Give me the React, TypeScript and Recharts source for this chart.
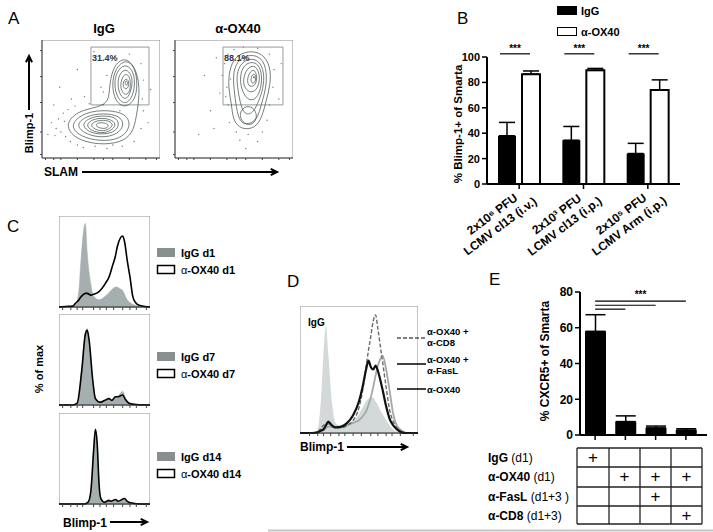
import React from 'react'
import {
  BarChart, Bar, XAxis, YAxis, ErrorBar, LabelList, Legend, ReferenceLine,
  ComposedChart, Area, Line, ScatterChart, Scatter, ReferenceArea,
} from 'recharts'

const FONT = '"Liberation Sans", Arial, Helvetica, sans-serif'

// ---------- panel A: SLAM x Blimp-1 contours (plot units 0-100) ----------
const toPts = (pairs: number[][]) => pairs.map(([x, y]) => ({ x, y }))

const iggContours = [
  [[19, 28], [28, 16], [48, 11], [67, 13], [77, 21], [80, 35], [83, 55], [81, 73], [72, 86], [61, 80], [57, 62], [57, 48], [48, 43], [30, 40]],
  [[23, 28], [32, 18], [50, 14], [66, 16], [75, 25], [73, 37], [56, 41], [36, 39]],
  [[28, 28], [37, 20], [51, 17], [64, 20], [70, 28], [66, 36], [52, 38], [38, 36]],
  [[33, 28], [41, 21], [52, 20], [62, 22], [66, 29], [62, 35], [50, 36], [40, 34]],
  [[37, 27], [44, 22], [53, 21], [60, 24], [63, 29], [58, 33], [49, 34], [41, 32]],
  [[41, 27], [47, 23], [54, 23], [59, 26], [60, 29], [56, 32], [48, 32], [43, 30]],
  [[45, 27], [50, 25], [55, 25], [57, 28], [53, 30], [47, 30]],
  [[59, 62], [62, 48], [70, 42], [79, 49], [81, 62], [79, 77], [71, 84], [62, 76]],
  [[61, 62], [64, 50], [71, 45], [77, 52], [79, 64], [77, 75], [70, 80], [63, 73]],
  [[64, 62], [66, 53], [71, 49], [75, 55], [77, 65], [75, 72], [70, 76], [65, 70]],
  [[66, 62], [68, 55], [72, 53], [75, 58], [75, 66], [73, 71], [69, 71]],
  [[68, 63], [70, 58], [73, 59], [74, 65], [71, 68]],
  [[70, 63], [72, 61], [73, 64], [71, 66]],
].map(toPts)

const ox40Contours = [
  [[46, 75], [51, 86], [62, 91], [74, 89], [81, 78], [81, 62], [77, 48], [74, 35], [68, 25], [56, 24], [49, 32], [48, 46], [45, 60]],
  [[49, 73], [54, 84], [64, 88], [74, 85], [78, 73], [77, 58], [73, 45], [70, 33], [62, 28], [55, 30], [52, 42], [50, 58]],
  [[52, 71], [56, 81], [65, 85], [73, 81], [76, 69], [74, 56], [70, 46], [66, 38], [59, 36], [55, 47], [53, 60]],
  [[55, 69], [58, 79], [66, 82], [72, 78], [74, 67], [72, 56], [68, 49], [61, 49], [56, 59]],
  [[58, 68], [61, 76], [67, 79], [71, 74], [72, 65], [69, 57], [63, 55], [58, 61]],
  [[61, 67], [64, 74], [68, 75], [70, 67], [67, 60], [62, 61]],
  [[64, 67], [66, 72], [69, 70], [68, 64], [65, 63]],
  [[66, 68], [67, 70], [68, 67]],
  [[54, 38], [57, 30], [64, 27], [70, 33], [68, 42], [60, 45]],
].map(toPts)

const iggDots = toPts([
  [8, 30], [12, 25], [14, 33], [16, 22], [18, 38], [20, 18], [22, 41], [24, 14], [28, 44], [30, 11],
  [35, 9], [40, 46], [45, 10], [52, 45], [55, 8], [60, 11], [68, 10], [78, 14], [84, 25], [86, 40],
  [85, 50], [86, 66], [84, 80], [74, 88], [62, 86], [55, 70], [52, 56], [36, 52], [25, 50], [10, 45],
  [5, 20], [90, 30], [50, 60], [66, 40], [44, 90], [30, 75], [15, 60], [92, 58], [11, 19], [19, 31],
])
const ox40Dots = toPts([
  [40, 70], [42, 80], [44, 60], [45, 88], [50, 92], [58, 94], [70, 93], [80, 88], [84, 75], [83, 60],
  [80, 45], [78, 32], [74, 22], [62, 20], [52, 22], [46, 30], [45, 45], [38, 55], [35, 85], [30, 40],
  [88, 50], [25, 70], [55, 15], [70, 14], [90, 80], [20, 20], [60, 8], [33, 25], [43, 52], [47, 67],
])

const iggGate = [41.5, 90.7, 45, 94]
const ox40Gate = [40.7, 91.5, 45, 94]
const contourYTicks = [3, 22, 47, 69, 91]
const contourXTicks = [3, 7, 10, 13, 16, 30, 44, 52, 57, 60, 74, 88, 93, 97]

// ---------- panel B: % Blimp-1+ of Smarta ----------
const pfuLabels = ['2x10⁶ PFU', '2x10³ PFU', '2x10⁵ PFU']
const virusLabels = ['LCMV cl13 (i.v.)', 'LCMV cl13 (i.p.)', 'LCMV Arm (i.p.)']
const iggBlimp = [38, 34.5, 24]
const iggBlimpErr = [10.5, 10.8, 8]
const oxBlimp = [86.5, 89.5, 74]
const oxBlimpErr = [2.5, 1.5, 8]
const blimpTicks = [0, 20, 40, 60, 80, 100]

const blimpData = pfuLabels.map((pfu, i) => ({
  pfu,
  igg: iggBlimp[i],
  iggErr: [0, iggBlimpErr[i]],
  ox: oxBlimp[i],
  oxErr: [0, oxBlimpErr[i]],
}))

// ---------- panel C: Blimp-1 histograms by day ----------
const d1Grid = [0, 7, 15, 18, 22, 24, 26, 29, 31, 35, 38, 44, 51, 55, 59, 62, 64, 67, 70, 72, 75, 78, 81, 84, 88, 100]
const d1IgG = [0, 0, 1, 2, 20, 50, 75, 92, 60, 25, 12, 8, 12, 16, 20, 22, 22, 20, 18, 14, 8, 5, 3, 2, 1, 0]
const d1OX40 = [0, 0.5, 1, 4, 8, 11, 13, 15, 15, 13, 14, 17, 26, 33, 46, 56, 66, 75, 78, 72, 51, 33, 12, 5, 2, 0]

const d7Grid = [0, 15, 20, 25, 29, 31, 33, 37, 40, 45, 50, 55, 58, 62, 65, 70, 73, 77, 85, 100]
const d7IgG = [0, 0, 3, 40, 80, 84, 70, 25, 8, 4, 5, 6, 6, 9, 10, 15, 8, 2, 0, 0]
const d7OX40 = [0, 0, 2, 38, 78, 82, 72, 28, 7, 3, 5, 7, 5, 9, 9, 11, 6, 2, 0.5, 0]

const d14Grid = [0, 28, 32, 35, 38, 40, 42, 44, 46, 50, 55, 57, 62, 65, 72, 75, 80, 90, 100]
const d14IgG = [0, 0, 2, 15, 60, 82, 65, 20, 5, 2, 4, 3, 5, 3, 6, 3, 1, 0, 0]
const d14OX40 = [0, 0, 2, 14, 58, 82, 66, 22, 6, 2, 4, 3, 5, 3, 6, 3, 1, 0, 0]

const histTicks = [4, 8, 11, 13, 15, 20, 26, 33, 38, 41, 45, 52, 60, 66, 70, 73, 78, 85, 92, 96]

const histo = (grid: number[], igg: number[], ox: number[]) =>
  grid.map((x, i) => ({ x, igg: igg[i], ox: ox[i] }))

const dayPanels = [
  { top: 216, data: histo(d1Grid, d1IgG, d1OX40), day: 'd1', legendTop: 248 },
  { top: 314, data: histo(d7Grid, d7IgG, d7OX40), day: 'd7', legendTop: 352 },
  { top: 413, data: histo(d14Grid, d14IgG, d14OX40), day: 'd14', legendTop: 452 },
]

// ---------- panel D: Blimp-1 with blocking antibodies ----------
const dGrid = [0, 10, 15, 18, 20, 22, 24, 27, 30, 35, 40, 45, 50, 53, 56, 58, 60, 62, 64, 66, 68, 70, 73, 76, 79, 82, 86, 90, 100]
const dIgG = [0, 0, 3, 30, 65, 84, 62, 25, 8, 5, 6, 10, 15, 20, 25, 27, 28, 28, 25, 22, 18, 15, 10, 6, 3, 1, 0, 0, 0]
const dOX40 = [0, 0, 0.5, 2, 2, 4, 5, 5, 4, 5, 6, 8, 10, 13, 17, 22, 28, 36, 45, 53, 58, 61, 50, 33, 15, 6, 2, 0, 0]
const dFasL = [0, 0, 0.5, 2, 3, 6, 9, 6, 4.5, 5, 8, 14, 25, 36, 50, 57, 52, 50, 53, 49, 42, 34, 21, 11, 6, 3, 0.5, 0, 0]
const dCD8 = [0, 0, 1, 4, 6, 7, 7.5, 5, 4, 4, 6, 10, 20, 33, 52, 65, 76, 88, 93, 82, 69, 56, 36, 18, 9, 4, 1, 0, 0]

const dData = dGrid.map((x, i) => ({ x, igg: dIgG[i], ox: dOX40[i], fasl: dFasL[i], cd8: dCD8[i] }))

// ---------- panel E: % CXCR5+ of Smarta ----------
const cxcrGroups = ['IgG', 'α-OX40', 'α-OX40 + α-FasL', 'α-OX40 + α-CD8']
const cxcrMean = [58, 7.5, 4, 2.8]
const cxcrErr = [9.3, 3.2, 1, 0.7]
const cxcrTicks = [0, 20, 40, 60, 80]
const sigLevels = [70.4, 72.6, 74.9]

const cxcrData = cxcrGroups.map((g, i) => ({ g, v: cxcrMean[i], err: [0, cxcrErr[i]] }))

const tableAgents = ['IgG', 'α-OX40', 'α-FasL', 'α-CD8']
const tableTimes = ['(d1)', '(d1)', '(d1+3 )', '(d1+3)']
const treatmentGrid = [
  [1, 0, 0, 0],
  [0, 1, 1, 1],
  [0, 0, 1, 0],
  [0, 0, 0, 1],
]

const noDot = () => <g />
const blank = () => ''

function ContourPlot({ left, rings, dots, gate }: any) {
  return (
    <div style={{ position: 'absolute', left, top: 40 }}>
      <ScatterChart width={128} height={126} margin={{ top: 0, right: 0, bottom: 0, left: 0 }}>
        <XAxis type="number" dataKey="x" domain={[0, 100]} ticks={contourXTicks} tickFormatter={blank}
          height={8} tickSize={2} axisLine={{ stroke: '#555' }} tickLine={{ stroke: '#444' }} allowDataOverflow />
        <YAxis type="number" dataKey="y" domain={[0, 100]} ticks={contourYTicks} tickFormatter={blank}
          width={10} tickSize={2} axisLine={{ stroke: '#555' }} tickLine={{ stroke: '#444' }} allowDataOverflow />
        <ReferenceArea x1={0} x2={100} y1={0} y2={100} fill="none" stroke="#8a8a8a" strokeWidth={1} />
        <ReferenceArea x1={gate[0]} x2={gate[1]} y1={gate[2]} y2={gate[3]} fill="none" stroke="#9a9a9a" strokeWidth={1} />
        <Scatter data={dots} isAnimationActive={false}
          shape={(p: any) => <circle cx={p.cx} cy={p.cy} r={0.7} fill="#777" />} />
        {rings.map((ring: any, i: number) => (
          <Scatter key={i} data={ring} isAnimationActive={false} shape={noDot}
            line={{ stroke: '#3b4646', strokeWidth: 0.7 }} lineJointType="basisClosed" fill="none" />
        ))}
      </ScatterChart>
    </div>
  )
}

function DayHisto({ top, data }: any) {
  return (
    <div style={{ position: 'absolute', left: 59, top }}>
      <ComposedChart width={91} height={95} data={data} margin={{ top: 0, right: 0, bottom: 0, left: 0 }}>
        <XAxis dataKey="x" type="number" domain={[0, 100]} ticks={histTicks} tickFormatter={blank}
          height={4} tickSize={3} axisLine={{ stroke: '#222' }} tickLine={{ stroke: '#444' }} />
        <YAxis hide domain={[0, 100]} />
        <ReferenceArea x1={0} x2={100} y1={0} y2={100} fill="none" stroke="#8e8e8e" strokeWidth={1} />
        <Area dataKey="igg" type="monotone" fill="#a6afaf" fillOpacity={1} stroke="#a6afaf" strokeWidth={0.5} isAnimationActive={false} />
        <Line dataKey="ox" type="monotone" stroke="#000" strokeWidth={1.6} dot={false} isAnimationActive={false} />
      </ComposedChart>
    </div>
  )
}

// significance bracket drawn from the α-OX40 bar back to the IgG bar
const SigBracket = (props: any) => {
  const { x, y, width, height, value } = props
  const bottom = y + height
  const yLine = bottom - (102.5 * height) / value
  const x1 = x - 22
  const x2 = x + width / 2 - 1
  return (
    <g>
      <line x1={x1} x2={x2} y1={yLine} y2={yLine} stroke="#000" strokeWidth={1.2} />
      <text x={(x1 + x2) / 2} y={yLine - 2} textAnchor="middle" fontSize={10} fontWeight="bold" fontFamily={FONT}>***</text>
    </g>
  )
}

const BlimpLegend = () => (
  <div style={{ fontFamily: FONT, fontSize: 11, fontWeight: 'bold', color: '#000' }}>
    {[{ name: 'IgG', fill: '#000' }, { name: 'α-OX40', fill: '#fff' }].map((item) => (
      <div key={item.name} style={{ height: 21, display: 'flex', alignItems: 'center' }}>
        <span style={{ width: 18, height: 7, background: item.fill, border: '1.5px solid #000', display: 'inline-block', marginRight: 4 }} />
        {item.name}
      </div>
    ))}
  </div>
)

const axisTick = { fontSize: 11, fontWeight: 'bold', fill: '#000', fontFamily: FONT }

function Arrow({ x1, y1, x2, y2 }: any) {
  const ang = Math.atan2(y2 - y1, x2 - x1)
  const h = 7
  const a1 = ang + Math.PI - 0.45
  const a2 = ang + Math.PI + 0.45
  return (
    <g stroke="#000" strokeWidth={2} fill="none">
      <line x1={x1} y1={y1} x2={x2} y2={y2} />
      <path d={`M${x2 + h * Math.cos(a1)},${y2 + h * Math.sin(a1)} L${x2},${y2} L${x2 + h * Math.cos(a2)},${y2 + h * Math.sin(a2)}`} />
    </g>
  )
}

const tableCols = [577, 609, 640, 671, 702]
const tableRowsY = [448, 467, 487, 506, 524]
// group centres of panel B's category axis (plot 487..680, three bands)
const blimpTickX = [519, 583.5, 648]

export default function App() {
  return (
    <div style={{ position: 'absolute', left: 0, top: 0, width: 713, height: 532, background: '#fff', overflow: 'hidden', fontFamily: FONT }}>
      {/* A */}
      <ContourPlot left={32} rings={iggContours} dots={iggDots} gate={iggGate} />
      <ContourPlot left={165} rings={ox40Contours} dots={ox40Dots} gate={ox40Gate} />

      {/* B */}
      <div style={{ position: 'absolute', left: 440, top: 0 }}>
        <BarChart width={260} height={290} data={blimpData} barSize={18} barGap={6}
          margin={{ top: 57, right: 20, bottom: 6, left: 0 }}>
          <XAxis dataKey="pfu" height={100} tickFormatter={blank} tickSize={5}
            axisLine={{ stroke: '#000', strokeWidth: 2 }} tickLine={{ stroke: '#000', strokeWidth: 1.5 }} interval={0} />
          <YAxis width={47} domain={[0, 100]} ticks={blimpTicks} tick={axisTick} tickSize={5}
            axisLine={{ stroke: '#000', strokeWidth: 2 }} tickLine={{ stroke: '#000', strokeWidth: 1.5 }} />
          <Legend layout="horizontal" verticalAlign="middle" align="center" content={<BlimpLegend />}
            wrapperStyle={{ top: 0, left: 117, width: 'auto', height: 'auto' }} />
          <Bar dataKey="igg" fill="#000" isAnimationActive={false}>
            <ErrorBar dataKey="iggErr" width={8} stroke="#000" strokeWidth={1.5} direction="y" />
          </Bar>
          <Bar dataKey="ox" fill="#fff" stroke="#000" strokeWidth={2} isAnimationActive={false}>
            <ErrorBar dataKey="oxErr" width={8} stroke="#000" strokeWidth={1.5} direction="y" />
            <LabelList dataKey="ox" content={<SigBracket />} />
          </Bar>
        </BarChart>
      </div>

      {/* C */}
      {dayPanels.map((p) => (
        <DayHisto key={p.day} top={p.top} data={p.data} />
      ))}

      {/* D */}
      <div style={{ position: 'absolute', left: 300, top: 306 }}>
        <ComposedChart width={118} height={133} data={dData} margin={{ top: 0, right: 0, bottom: 0, left: 0 }}>
          <XAxis dataKey="x" type="number" domain={[0, 100]} ticks={histTicks} tickFormatter={blank}
            height={6} tickSize={3} axisLine={{ stroke: '#222' }} tickLine={{ stroke: '#444' }} />
          <YAxis hide domain={[0, 100]} />
          <ReferenceArea x1={0} x2={100} y1={0} y2={100} fill="none" stroke="#8e8e8e" strokeWidth={1} />
          <Area dataKey="igg" type="monotone" fill="#d3d8d8" fillOpacity={1} stroke="none" isAnimationActive={false} />
          <Line dataKey="ox" type="monotone" stroke="#a4a8a8" strokeWidth={1.8} dot={false} isAnimationActive={false} />
          <Line dataKey="cd8" type="monotone" stroke="#6a6a6a" strokeWidth={1.4} strokeDasharray="4 2" dot={false} isAnimationActive={false} />
          <Line dataKey="fasl" type="monotone" stroke="#111" strokeWidth={2.2} dot={false} isAnimationActive={false} />
        </ComposedChart>
      </div>

      {/* E */}
      <div style={{ position: 'absolute', left: 527, top: 270 }}>
        <BarChart width={186} height={175} data={cxcrData} barSize={21}
          margin={{ top: 22, right: 6, bottom: 0, left: 0 }}>
          <XAxis dataKey="g" height={10} tickFormatter={blank} tickSize={5} padding={{ left: 0, right: 6 }}
            axisLine={{ stroke: '#000', strokeWidth: 2 }} tickLine={{ stroke: '#000', strokeWidth: 1.5 }} interval={0} />
          <YAxis width={53} domain={[0, 80]} ticks={cxcrTicks} tick={{ ...axisTick, fontSize: 12 }} tickSize={5}
            axisLine={{ stroke: '#000', strokeWidth: 2 }} tickLine={{ stroke: '#000', strokeWidth: 1.5 }} />
          <Bar dataKey="v" fill="#000" isAnimationActive={false}>
            <ErrorBar dataKey="err" width={10} stroke="#000" strokeWidth={1.5} direction="y" />
          </Bar>
          {sigLevels.map((lvl, i) => (
            <ReferenceLine key={i} stroke="#000" strokeWidth={1.2}
              segment={[{ x: cxcrGroups[0], y: lvl }, { x: cxcrGroups[i + 1], y: lvl }]}
              label={i === 2 ? { value: '***', position: 'top', fontSize: 10, fontWeight: 'bold', fill: '#000', offset: 3 } : undefined} />
          ))}
        </BarChart>
      </div>

      {/* text, arrows, table */}
      <svg width={713} height={532} style={{ position: 'absolute', left: 0, top: 0, pointerEvents: 'none' }} fontFamily={FONT}>
        <g fontSize={17} fill="#000">
          <text x={8} y={24}>A</text>
          <text x={457} y={24}>B</text>
          <text x={7} y={232}>C</text>
          <text x={287} y={287}>D</text>
          <text x={489} y={285}>E</text>
        </g>

        <g fontWeight="bold" fontSize={13} textAnchor="middle">
          <text x={104} y={33}>IgG</text>
          <text x={238} y={33}>α-OX40</text>
        </g>
        <g fontWeight="bold" fontSize={9} fill="#333">
          <text x={92} y={61}>31.4%</text>
          <text x={224} y={61}>88.1%</text>
        </g>
        <text transform="translate(33,133) rotate(-90)" textAnchor="middle" fontWeight="bold" fontSize={11}>Blimp-1</text>
        <Arrow x1={29} y1={110} x2={29} y2={56} />
        <text x={44} y={176} fontWeight="bold" fontSize={12}>SLAM</text>
        <Arrow x1={82} y1={172} x2={277} y2={172} />

        <text transform="translate(462,124) rotate(-90)" textAnchor="middle" fontWeight="bold" fontSize={11.5}>% Blimp-1+ of Smarta</text>
        {blimpTickX.map((tx, i) => (
          <g key={i} fontWeight="bold" fontSize={12} textAnchor="middle">
            <text transform={`translate(${tx - 24.4},${217.4}) rotate(-37)`}>{pfuLabels[i]}</text>
            <text transform={`translate(${tx - 16.4},${229.4}) rotate(-37)`}>{virusLabels[i]}</text>
          </g>
        ))}

        <text transform="translate(43,369) rotate(-90)" textAnchor="middle" fontWeight="bold" fontSize={11}>% of max</text>
        <text x={63} y={527} fontWeight="bold" fontSize={12}>Blimp-1</text>
        <Arrow x1={110} y1={522} x2={147} y2={522} />
        {dayPanels.map((p) => (
          <g key={p.day} fontSize={11} fontWeight="bold">
            <rect x={157} y={p.legendTop} width={18} height={9} fill="#87908f" />
            <text x={181} y={p.legendTop + 9}>IgG {p.day}</text>
            <rect x={157.5} y={p.legendTop + 17.5} width={17} height={8} fill="#fff" stroke="#000" strokeWidth={1.5} />
            <text x={181} y={p.legendTop + 26}><tspan fontWeight="normal">α</tspan>-OX40 {p.day}</text>
          </g>
        ))}

        <text x={308} y={326} fontWeight="bold" fontSize={10}>IgG</text>
        <line x1={397} x2={426} y1={338} y2={338} stroke="#555" strokeWidth={1.4} strokeDasharray="4 2" />
        <line x1={397} x2={426} y1={364} y2={364} stroke="#000" strokeWidth={1.5} />
        <line x1={397} x2={426} y1={389} y2={389} stroke="#000" strokeWidth={1.5} />
        <g fontWeight="bold" fontSize={9.5}>
          <text x={427} y={335}>α-OX40 +</text>
          <text x={427} y={346}>α-CD8</text>
          <text x={427} y={363}>α-OX40 +</text>
          <text x={427} y={374}>α-FasL</text>
          <text x={427} y={393}>α-OX40</text>
        </g>
        <text x={300} y={451} fontWeight="bold" fontSize={12}>Blimp-1</text>
        <Arrow x1={347} y1={447} x2={407} y2={447} />

        <text transform="translate(549,361) rotate(-90)" textAnchor="middle" fontWeight="bold" fontSize={12}>% CXCR5+ of Smarta</text>

        <g stroke="#222" strokeWidth={1.3}>
          {tableCols.map((cx) => (
            <line key={cx} x1={cx} x2={cx} y1={tableRowsY[0]} y2={tableRowsY[tableRowsY.length - 1]} />
          ))}
          {tableRowsY.map((ry) => (
            <line key={ry} x1={tableCols[0]} x2={tableCols[tableCols.length - 1]} y1={ry} y2={ry} />
          ))}
        </g>
        {tableAgents.map((agent, r) => (
          <g key={agent}>
            <text x={488} y={tableRowsY[r] + 14} fontSize={12}>
              <tspan fontWeight="bold">{agent}</tspan> {tableTimes[r]}
            </text>
            {treatmentGrid[r].map((on, c) =>
              on ? (
                <text key={c} x={(tableCols[c] + tableCols[c + 1]) / 2} y={tableRowsY[r] + 15} textAnchor="middle" fontSize={17}>+</text>
              ) : null
            )}
          </g>
        ))}

        <line x1={268} x2={713} y1={530.5} y2={530.5} stroke="#c6c6c6" strokeWidth={2} />
      </svg>
    </div>
  )
}
